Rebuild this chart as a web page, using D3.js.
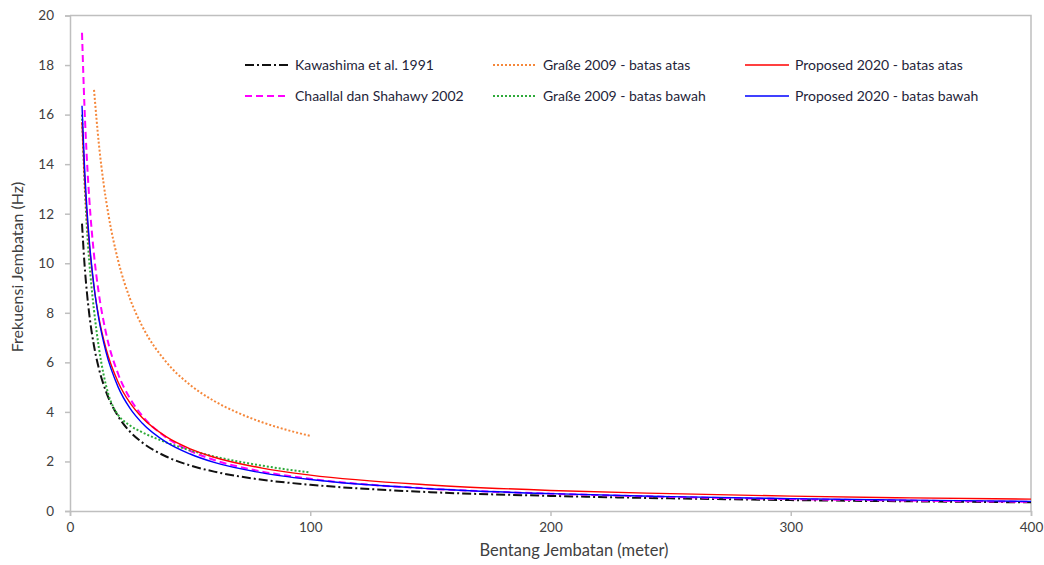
<!DOCTYPE html>
<html>
<head>
<meta charset="utf-8">
<script src="https://cdn.jsdelivr.net/npm/d3@7/dist/d3.min.js"></script>
<style>
  html, body { margin: 0; padding: 0; background: #ffffff; }
  svg { display: block; font-family: Lato, "Open Sans", sans-serif; }
</style>
</head>
<body>
<svg id="chart" width="1044" height="565"></svg>
<script>
// Bridge span (m) sample points and fundamental frequency (Hz) for each formula
const spans = [5, 6, 7, 8, 10, 12, 15, 20, 25, 30, 40, 50, 60, 80, 100, 150, 200, 250, 300, 350, 400];
const kawashima     = [11.6, 10.02, 8.86, 7.96, 6.66, 5.76, 4.82, 3.83, 3.20, 2.77, 2.20, 1.84, 1.59, 1.26, 1.06, 0.76, 0.61, 0.51, 0.44, 0.39, 0.35];
const chaallal      = [19.3, 16.38, 14.26, 12.64, 10.34, 8.78, 7.18, 5.54, 4.54, 3.85, 2.97, 2.43, 2.06, 1.59, 1.30, 0.90, 0.70, 0.57, 0.48, 0.42, 0.37];
const proposedAtas  = [15.7, 13.58, 12.01, 10.80, 9.04, 7.82, 6.55, 5.21, 4.36, 3.77, 3.00, 2.51, 2.17, 1.73, 1.45, 1.05, 0.83, 0.70, 0.60, 0.53, 0.48];
const proposedBawah = [16.36, 14.0, 12.28, 10.96, 9.06, 7.75, 6.41, 5.01, 4.14, 3.55, 2.78, 2.30, 1.96, 1.54, 1.27, 0.90, 0.70, 0.58, 0.50, 0.44, 0.39];

// Graße 2009 is only defined up to 100 m
const grabeAtasSpans  = [10, 12, 14, 16, 20, 25, 30, 40, 50, 60, 70, 80, 90, 100];
const grabeAtas       = [17.0, 14.83, 13.21, 11.96, 10.12, 8.56, 7.47, 6.02, 5.09, 4.44, 3.96, 3.58, 3.28, 3.03];
const grabeBawahSpans = [5, 6, 7, 8, 9, 10, 12, 14, 16, 18, 20, 25, 30, 40, 50, 60, 70, 80, 90, 100];
const grabeBawah      = [16.0, 13.4, 11.5, 10.1, 9.0, 8.1, 6.6, 5.5, 4.7, 4.2, 3.88, 3.45, 3.18, 2.77, 2.45, 2.2, 2.0, 1.83, 1.68, 1.55];

const xTicks = [0, 100, 200, 300, 400];
const yTicks = [0, 2, 4, 6, 8, 10, 12, 14, 16, 18, 20];

const seriesNames = [
  "Kawashima et al. 1991", "Graße 2009 - batas atas", "Proposed 2020 - batas atas",
  "Chaallal dan Shahawy 2002", "Graße 2009 - batas bawah", "Proposed 2020 - batas bawah"
];

const svg = d3.select("#chart");
const plotLeft = 70, plotRight = 1031, plotTop = 15.5, plotBottom = 511;

const x = d3.scaleLinear().domain([0, 400]).range([plotLeft, plotRight]);
const y = d3.scaleLinear().domain([0, 20]).range([plotBottom, plotTop]);

const axisColor = "#bfbfbf";
const textColor = "#404040";

// plot frame (top and right edges)
svg.append("path")
  .attr("d", `M${plotLeft},${plotTop}H${plotRight}V${plotBottom}`)
  .attr("fill", "none").attr("stroke", axisColor).attr("stroke-width", 1.5);

// axes
const gx = svg.append("g").attr("transform", `translate(0,${plotBottom})`)
  .call(d3.axisBottom(x).tickValues(xTicks).tickSize(5).tickPadding(6));
const gy = svg.append("g").attr("transform", `translate(${plotLeft},0)`)
  .call(d3.axisLeft(y).tickValues(yTicks).tickSize(5).tickPadding(11));
[gx, gy].forEach(g => {
  g.select(".domain").attr("stroke", axisColor).attr("stroke-width", 1.5);
  g.selectAll(".tick line").attr("stroke", axisColor).attr("stroke-width", 1.5);
  g.selectAll(".tick text").attr("fill", textColor)
    .style("font-family", "Lato, sans-serif").style("font-size", "13.5px");
});

// axis titles
svg.append("text")
  .attr("x", 574).attr("y", 556)
  .attr("text-anchor", "middle").attr("fill", textColor)
  .style("font-size", "16.5px")
  .text("Bentang Jembatan (meter)");
svg.append("text")
  .attr("transform", "translate(23,267) rotate(-90)")
  .attr("text-anchor", "middle").attr("fill", textColor)
  .style("font-size", "16px")
  .text("Frekuensi Jembatan (Hz)");

const line = d3.line()
  .x(d => x(d[0])).y(d => y(d[1]))
  .curve(d3.curveMonotoneX);

const series = [
  { name: seriesNames[0], xs: spans, ys: kawashima, color: "#111111", dash: "9,3,2,3", width: 2 },
  { name: seriesNames[1], xs: grabeAtasSpans, ys: grabeAtas, color: "#F5873A", dash: "2,2", width: 2 },
  { name: seriesNames[2], xs: spans, ys: proposedAtas, color: "#FF0000", dash: null, width: 1.4 },
  { name: seriesNames[3], xs: spans, ys: chaallal, color: "#FF00FF", dash: "7,4", width: 2 },
  { name: seriesNames[4], xs: grabeBawahSpans, ys: grabeBawah, color: "#2EAA3A", dash: "2,2", width: 2 },
  { name: seriesNames[5], xs: spans, ys: proposedBawah, color: "#0000FF", dash: null, width: 1.4 }
];

const drawOrder = [0, 3, 1, 4, 2, 5];
drawOrder.forEach(i => {
  const s = series[i];
  svg.append("path")
    .datum(s.xs.map((v, k) => [v, s.ys[k]]))
    .attr("d", line)
    .attr("fill", "none")
    .attr("stroke", s.color)
    .attr("stroke-width", s.width)
    .attr("stroke-dasharray", s.dash);
});

// legend: three columns, two rows
const colX = [245, 493, 745];
const rowY = [65, 96];
series.forEach((s, i) => {
  const cx = colX[i % 3], cy = rowY[Math.floor(i / 3)];
  const g = svg.append("g").attr("transform", `translate(${cx},${cy})`);
  g.append("line").attr("x1", 0).attr("x2", 44).attr("y1", 0).attr("y2", 0)
    .attr("stroke", s.color).attr("stroke-width", s.width)
    .attr("stroke-dasharray", s.dash);
  g.append("text").attr("x", 50).attr("y", 5)
    .attr("fill", "#1f1f3a").style("font-size", "14px")
    .text(s.name);
});
</script>
</body>
</html>
